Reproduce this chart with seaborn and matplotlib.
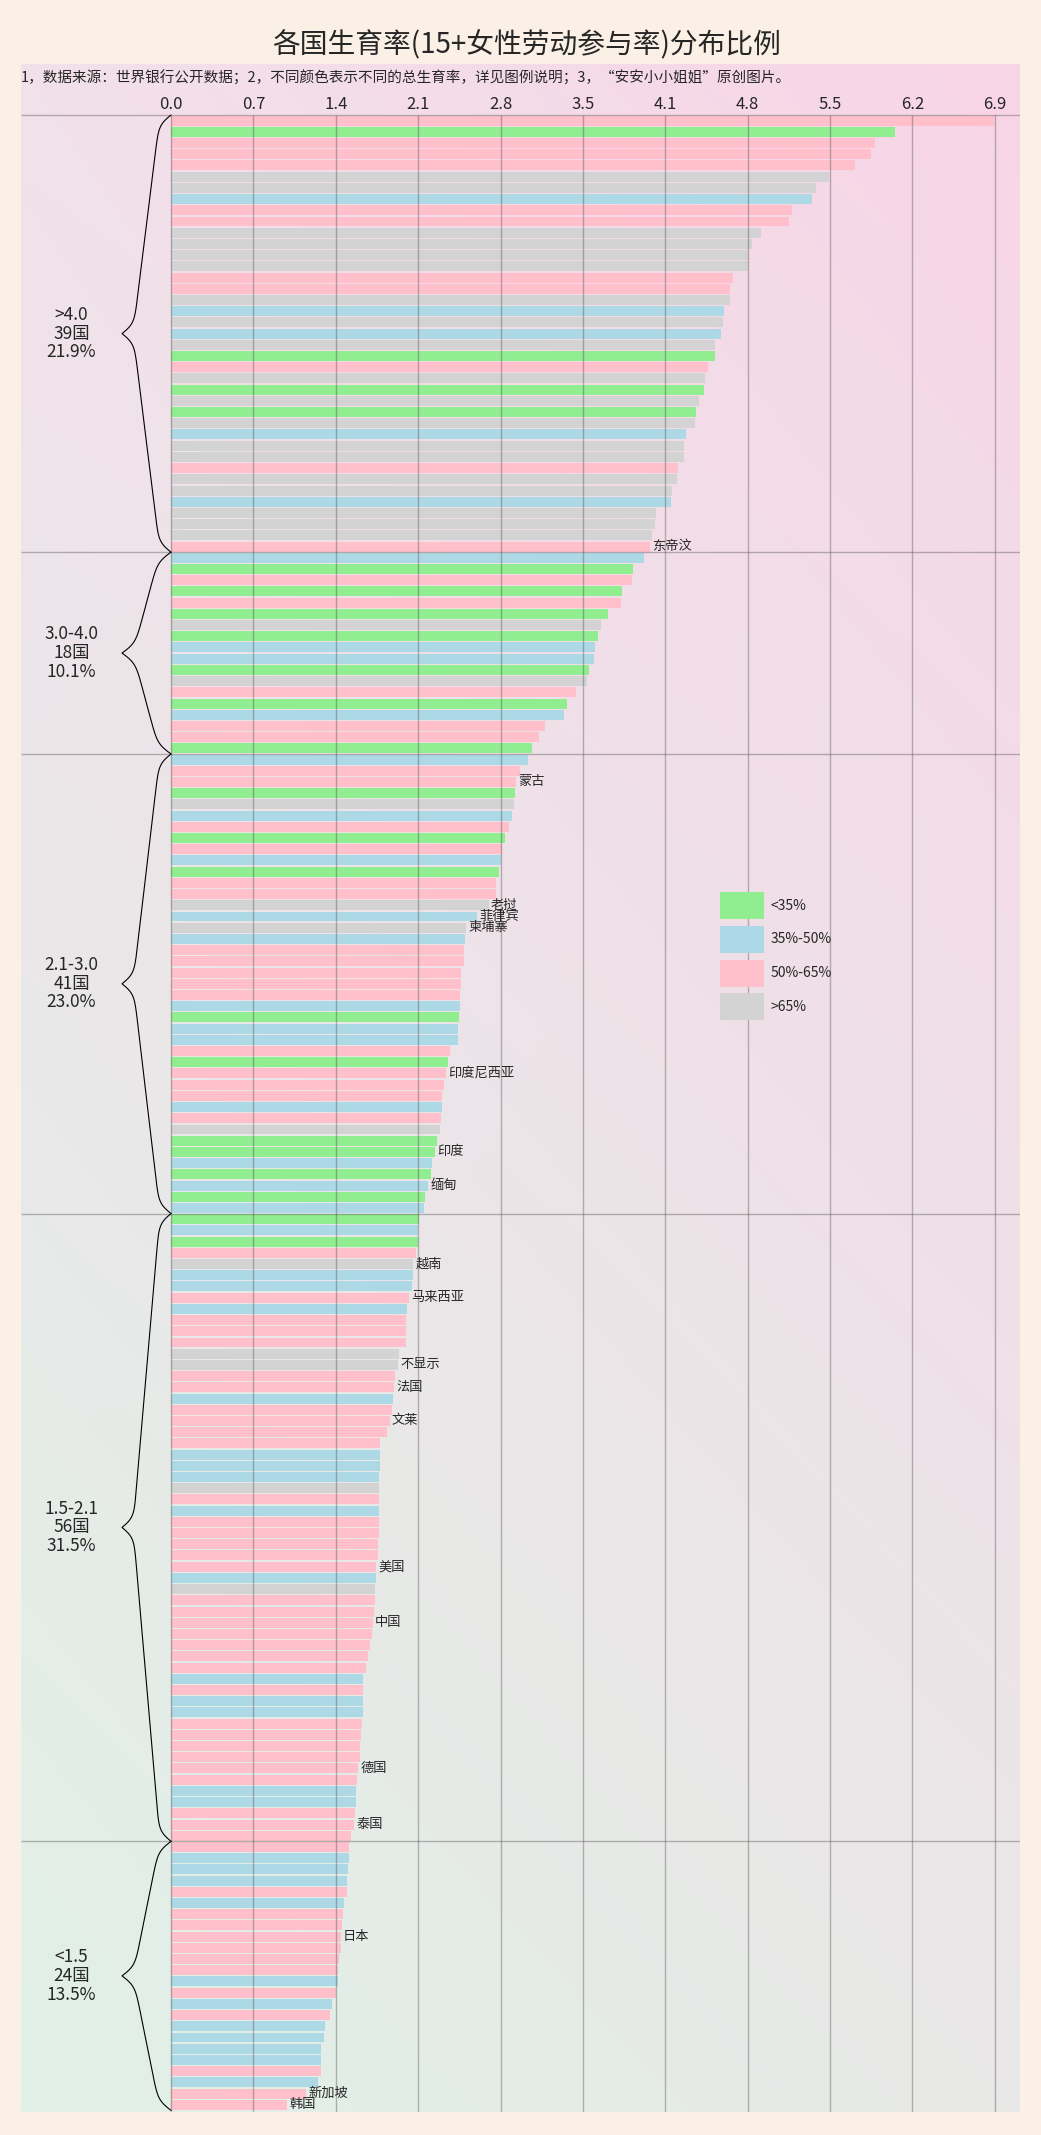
import numpy as np
import pandas as pd
import matplotlib
matplotlib.use("Agg")
import matplotlib.pyplot as plt
import seaborn as sns
from matplotlib.patches import Patch

# ---------------- data ----------------
g1_vals = [6.89, 6.06, 5.90, 5.86, 5.73, 5.51, 5.40, 5.37, 5.20, 5.18, 4.94, 4.87, 4.83, 4.83,
           4.71, 4.68, 4.68, 4.63, 4.62, 4.61, 4.56, 4.56, 4.50, 4.47, 4.46, 4.42, 4.40, 4.39,
           4.31, 4.30, 4.30, 4.25, 4.24, 4.20, 4.19, 4.06, 4.05, 4.03, 4.01]
g1_cats = "PGPPPRRBPPRRRRPPRBRBRGPRGRGRBRRPRRBRRRP"

g2_vals = [3.96, 3.87, 3.86, 3.78, 3.77, 3.66, 3.60, 3.58, 3.55, 3.54, 3.50, 3.48, 3.39, 3.32,
           3.29, 3.13, 3.08, 3.02]
g2_cats = "BGPGPGRGBBGRPGBPPG"

g3_vals = [2.99, 2.92, 2.89, 2.88, 2.87, 2.86, 2.83, 2.80, 2.77, 2.76, 2.75, 2.72, 2.72, 2.66,
           2.56, 2.47, 2.46, 2.45, 2.45, 2.43, 2.43, 2.42, 2.42, 2.41, 2.40, 2.40, 2.34, 2.32,
           2.30, 2.29, 2.27, 2.27, 2.26, 2.25, 2.23, 2.21, 2.19, 2.18, 2.15, 2.13, 2.12]
g3_cats = "BPPGRBPGPBGPPRBRBPPPPPBGBBPGPPPBPRGGBGBGB"

g4_vals = [2.08, 2.07, 2.07, 2.05, 2.03, 2.03, 2.02, 1.99, 1.98, 1.97, 1.97, 1.97, 1.91, 1.90,
           1.88, 1.87, 1.86, 1.85, 1.83, 1.81, 1.75, 1.75, 1.75, 1.74, 1.74, 1.74, 1.74, 1.74,
           1.74, 1.73, 1.73, 1.72, 1.72, 1.71, 1.71, 1.70, 1.69, 1.68, 1.67, 1.65, 1.63, 1.61,
           1.61, 1.61, 1.61, 1.60, 1.59, 1.58, 1.58, 1.57, 1.56, 1.55, 1.55, 1.54, 1.53, 1.51]
g4_cats = "GBGPRBBPBPPPRRPPBPPPPBBBRPBPPPPPBRPPPPPPPBPBBPPPPPPBBPPP"

g5_vals = [1.49, 1.49, 1.48, 1.47, 1.47, 1.45, 1.44, 1.43, 1.42, 1.42, 1.41, 1.40, 1.40, 1.38,
           1.35, 1.33, 1.29, 1.28, 1.26, 1.26, 1.26, 1.23, 1.13, 0.97]
g5_cats = "PBBBPBPPPPPPBPBPBBBBPBPP"

group_names = [">4.0", "3.0-4.0", "2.1-3.0", "1.5-2.1", "<1.5"]
group_vals = [g1_vals, g2_vals, g3_vals, g4_vals, g5_vals]
group_cats = [g1_cats, g2_cats, g3_cats, g4_cats, g5_cats]

cat_codes = {"G": "<35%", "B": "35%-50%", "P": "50%-65%", "R": ">65%"}
cat_order = ["<35%", "35%-50%", "50%-65%", ">65%"]
cat_colors = ["#90EE90", "#ADD8E6", "#FFC0CB", "#D3D3D3"]

tick_values = np.linspace(0, 6.9, 11)
tick_labels = ["0.0", "0.7", "1.4", "2.1", "2.8", "3.5", "4.1", "4.8", "5.5", "6.2", "6.9"]

label_names = ["东帝汶", "蒙古", "老挝", "菲律宾", "柬埔寨", "印度尼西亚", "印度", "缅甸", "越南",
               "马来西亚", "不显示", "法国", "文莱", "美国", "中国", "德国", "泰国", "日本",
               "新加坡", "韩国"]
label_rows = [38, 59, 70, 71, 72, 85, 92, 95, 102, 105, 111, 113, 116, 129, 134, 147, 152,
              162, 176, 177]

title = "各国生育率(15+女性劳动参与率)分布比例"
subtitle = "1，数据来源：世界银行公开数据；2，不同颜色表示不同的总生育率，详见图例说明；3，“安安小小姐姐”原创图片。"

# ---------------- frame ----------------
rows, vals, cats = [], [], []
r = 0
for gv, gc in zip(group_vals, group_cats):
    for v, c in zip(gv, gc):
        rows.append(r)
        vals.append(v)
        cats.append(cat_codes[c])
        r += 1
df = pd.DataFrame({"rank": rows, "fert": vals, "flfp": cats})
n = len(df)
sizes = [len(g) for g in group_vals]
ends = np.cumsum(sizes)
starts = ends - np.array(sizes)

# ---------------- style ----------------
sns.set_style("white")
plt.rcParams["font.family"] = ["Noto Sans CJK SC", "DejaVu Sans"]
plt.rcParams["axes.unicode_minus"] = False

W, H = 1041, 2135
fig = plt.figure(figsize=(W / 100, H / 100), dpi=100, facecolor="#FAF0E6")
ax_l, ax_r, ax_t, ax_b = 21, 1020, 64, 2112
ax = fig.add_axes([ax_l / W, 1 - ax_b / H, (ax_r - ax_l) / W, (ax_b - ax_t) / H])

# background gradient (axes coords)
TL = np.array([242, 225, 234]) / 255
TR = np.array([248, 213, 231]) / 255
BL = np.array([224, 241, 231]) / 255
BR = np.array([233, 232, 232]) / 255
yy = np.linspace(0, 1, 300)[:, None, None]
xx = np.linspace(0, 1, 150)[None, :, None]
img = TL * (1 - xx) * (1 - yy) + TR * xx * (1 - yy) + BL * (1 - xx) * yy + BR * xx * yy
ax.imshow(img, extent=(0, 1, 0, 1), transform=ax.transAxes, aspect="auto",
          origin="upper", zorder=0, interpolation="bilinear")

sns.barplot(data=df, x="fert", y="rank", hue="flfp", hue_order=cat_order,
            palette=dict(zip(cat_order, cat_colors)), order=list(range(n)),
            orient="h", dodge=False, width=0.89, errorbar=None, legend=False,
            saturation=1, ax=ax, zorder=2, linewidth=0, edgecolor="none")

x0px, xscale = 171.0, 119.4
xlim = ((ax_l - x0px) / xscale, (ax_r - x0px) / xscale)
row0, pitch = 120.6, 11.21
ylim = ((ax_b - row0) / pitch, (ax_t - row0) / pitch)
ax.set_xlim(*xlim)
ax.set_ylim(*ylim)

for s in ax.spines.values():
    s.set_visible(False)
ax.set_xlabel("")
ax.set_ylabel("")
ax.set_yticks([])
ax.xaxis.set_ticks_position("top")
ax.set_xticks(tick_values, labels=tick_labels)
ax.tick_params(axis="x", length=0, pad=-35, labelsize=12, labeltop=True, labelbottom=False)

# grid & separators
line_kw = dict(colors="#4a4a4a", alpha=0.38, linewidth=1.0, zorder=3)
ax.vlines(tick_values, -0.5, ylim[0], **line_kw)
ax.hlines(np.concatenate([[-0.5], ends[:-1] - 0.5]), xlim[0], xlim[1], **line_kw)

# braces and group labels
tip = -0.41
rpx = 5.0
q = 0.45
sig = lambda z: 1 / (1 + np.exp(-z))
for gi, (s0, e0) in enumerate(zip(starts, ends)):
    ytop, ybot = s0 - 0.5, e0 - 0.5
    ymid = (ytop + ybot) / 2
    Hpx = (ybot - ytop) / 2 * pitch
    d = np.linspace(0, Hpx, 400)
    g = sig(d / rpx) + sig((d - Hpx) / rpx)
    gs = (g - g[0]) / (g[-1] - g[0])
    f = (1 - q) * d / Hpx + q * gs
    xs = tip * f
    yu = ytop + d / pitch
    yl = ybot - d / pitch
    ax.plot(np.concatenate([xs, xs[::-1]]), np.concatenate([yu, yl[::-1]]),
            color="black", lw=0.8, zorder=4)
    cnt = sizes[gi]
    ax.text(-0.833, ymid, f"{group_names[gi]}\n{cnt}国\n{cnt / n * 100:.1f}%",
            ha="center", va="center", fontsize=12.5, linespacing=1.05, zorder=5)

# country labels
for name, rr in zip(label_names, label_rows):
    ax.text(df["fert"].iloc[rr] + 0.02, rr, name, ha="left", va="center",
            fontsize=9.5, zorder=5)

# subtitle & title
ax.text(0.0, 1 - (78 - ax_t) / (ax_b - ax_t), subtitle, transform=ax.transAxes,
        ha="left", va="center", fontsize=10.5, zorder=5)
fig.text(527 / W, 1 - 45 / H, title, ha="center", va="center", fontsize=20)

# legend
handles = [Patch(facecolor=c, edgecolor="none", label=l) for l, c in zip(cat_order, cat_colors)]
ax.legend(handles=handles, loc="upper left", bbox_to_anchor=(720 / W, 1 - 892 / H),
          bbox_transform=fig.transFigure, frameon=False, fontsize=10,
          handlelength=3.15, handleheight=2.6, labelspacing=0.5, borderpad=0,
          borderaxespad=0, handletextpad=0.5)

fig.savefig("out.png", dpi=100, facecolor=fig.get_facecolor())
